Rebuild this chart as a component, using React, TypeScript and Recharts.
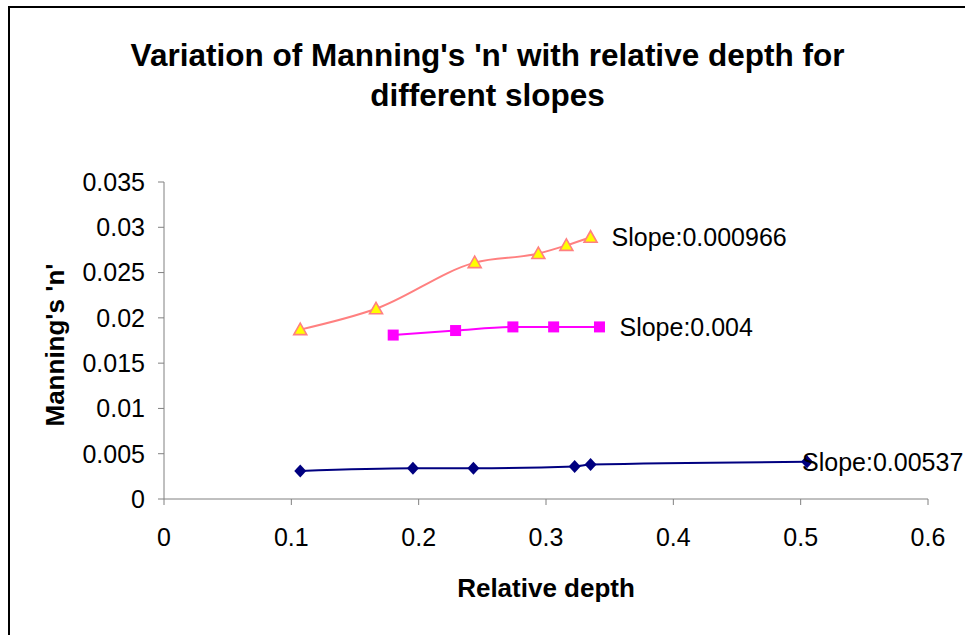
import { Line, LineChart, XAxis, YAxis } from "recharts";

// relative depth / Manning's n
const depthA = [0.107, 0.1665, 0.244, 0.294, 0.316, 0.335];
const nA = [0.0187, 0.021, 0.0261, 0.0271, 0.028, 0.0289];

const depthB = [0.18, 0.229, 0.274, 0.306, 0.342];
const nB = [0.0181, 0.0186, 0.019, 0.019, 0.019];

const depthC = [0.107, 0.1955, 0.243, 0.3225, 0.335, 0.505];
const nC = [0.0031, 0.0034, 0.0034, 0.0036, 0.0038, 0.0041];

const xTicks = [0, 0.1, 0.2, 0.3, 0.4, 0.5, 0.6];
const yTicks = [0, 0.005, 0.01, 0.015, 0.02, 0.025, 0.03, 0.035];

const seriesA = depthA.map((x, i) => ({ x, n: nA[i] }));
const seriesB = depthB.map((x, i) => ({ x, n: nB[i] }));
const seriesC = depthC.map((x, i) => ({ x, n: nC[i] }));

const FONT = "'Liberation Sans', Arial, sans-serif";
const axisColor = "#808080";

const Triangle = (p: any) => {
  const { cx, cy } = p;
  if (cx == null || cy == null) return null;
  return (
    <polygon
      key={p.index}
      points={`${cx},${cy - 6.5} ${cx + 6.5},${cy + 5} ${cx - 6.5},${cy + 5}`}
      fill="#ffff00"
      stroke="#ff8080"
      strokeWidth={1.6}
    />
  );
};

const Square = (p: any) => {
  const { cx, cy } = p;
  if (cx == null || cy == null) return null;
  return <rect key={p.index} x={cx - 5.5} y={cy - 5.5} width={11} height={11} fill="#ff00ff" />;
};

const Diamond = (p: any) => {
  const { cx, cy } = p;
  if (cx == null || cy == null) return null;
  return (
    <polygon
      key={p.index}
      points={`${cx},${cy - 6.5} ${cx + 6},${cy} ${cx},${cy + 6.5} ${cx - 6},${cy}`}
      fill="#000080"
    />
  );
};

function endLabel(text: string, count: number, dx: number) {
  return (p: any) => {
    if (p.index !== count - 1) return null;
    return (
      <text
        key="lbl"
        x={p.x + dx}
        y={p.y}
        dy="0.35em"
        fontSize={25}
        fontFamily={FONT}
        fill="#000"
      >
        {text}
      </text>
    );
  };
}

export default function App() {
  return (
    <div style={{ position: "fixed", left: 0, top: 0, width: 965, height: 635, background: "#fff" }}>
      <div
        style={{
          position: "absolute",
          left: 8,
          top: 6,
          width: 980,
          height: 650,
          borderLeft: "2px solid #000",
          borderTop: "2px solid #000",
        }}
      />
      <div
        style={{
          position: "absolute",
          left: 0,
          width: 975,
          top: 35,
          textAlign: "center",
          fontFamily: FONT,
          fontWeight: "bold",
          fontSize: 31.5,
          lineHeight: "40px",
          color: "#000",
        }}
      >
        Variation of Manning's 'n' with relative depth for
        <br />
        different slopes
      </div>
      <div
        style={{
          position: "absolute",
          left: 396,
          width: 300,
          top: 573,
          height: 30,
          lineHeight: "30px",
          textAlign: "center",
          fontFamily: FONT,
          fontWeight: "bold",
          fontSize: 26,
          color: "#000",
        }}
      >
        Relative depth
      </div>
      <div
        style={{
          position: "absolute",
          left: 55 - 120,
          top: 345 - 15,
          width: 240,
          height: 30,
          lineHeight: "30px",
          textAlign: "center",
          transform: "rotate(-90deg)",
          fontFamily: FONT,
          fontWeight: "bold",
          fontSize: 26,
          color: "#000",
        }}
      >
        Manning's 'n'
      </div>
      <div style={{ position: "absolute", left: 0, top: 0 }}>
        <LineChart width={965} height={635} margin={{ top: 182, right: 37, bottom: 76, left: 84 }}>
          <XAxis
            type="number"
            dataKey="x"
            domain={[0, 0.6]}
            ticks={xTicks}
            allowDataOverflow
            stroke={axisColor}
            tickSize={6}
            tickMargin={23}
            height={60}
            tick={{ fill: "#000", fontSize: 25, fontFamily: FONT }}
          />
          <YAxis
            type="number"
            domain={[0, 0.035]}
            ticks={yTicks}
            allowDataOverflow
            stroke={axisColor}
            tickSize={6}
            tickMargin={13}
            width={80}
            tick={{ fill: "#000", fontSize: 25, fontFamily: FONT }}
          />
          <Line
            data={seriesA}
            dataKey="n"
            type="monotone"
            stroke="#ff8080"
            strokeWidth={2}
            dot={Triangle}
            activeDot={false}
            isAnimationActive={false}
            label={endLabel("Slope:0.000966", seriesA.length, 21)}
          />
          <Line
            data={seriesB}
            dataKey="n"
            type="monotone"
            stroke="#ff00ff"
            strokeWidth={2}
            dot={Square}
            activeDot={false}
            isAnimationActive={false}
            label={endLabel("Slope:0.004", seriesB.length, 20)}
          />
          <Line
            data={seriesC}
            dataKey="n"
            type="monotone"
            stroke="#000080"
            strokeWidth={2}
            dot={Diamond}
            activeDot={false}
            isAnimationActive={false}
            label={endLabel("Slope:0.00537", seriesC.length, -5)}
          />
        </LineChart>
      </div>
    </div>
  );
}
